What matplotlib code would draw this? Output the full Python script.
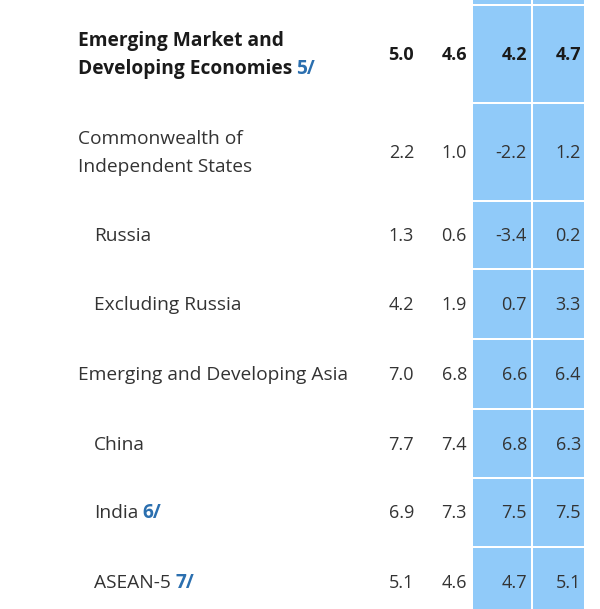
import matplotlib.pyplot as plt
from matplotlib.patches import Rectangle

plt.rcParams['font.family'] = ['Open Sans', 'DejaVu Sans']

# table content
labels = [
    ["Emerging Market and", "Developing Economies"],
    ["Commonwealth of", "Independent States"],
    ["Russia"],
    ["Excluding Russia"],
    ["Emerging and Developing Asia"],
    ["China"],
    ["India"],
    ["ASEAN-5"],
]
notes = ["5/", "", "", "", "", "", "6/", "7/"]
indent = [0, 0, 1, 1, 0, 1, 1, 1]
col_a = [5.0, 2.2, 1.3, 4.2, 7.0, 7.7, 6.9, 5.1]
col_b = [4.6, 1.0, 0.6, 1.9, 6.8, 7.4, 7.3, 4.6]
col_c = [4.2, -2.2, -3.4, 0.7, 6.6, 6.8, 7.5, 4.7]
col_d = [4.7, 1.2, 0.2, 3.3, 6.4, 6.3, 7.5, 5.1]

# layout (pixels)
row_edges = [-40, 5, 103, 201, 269, 339, 409, 478, 547, 617]
col_right = [414, 467, 527, 581]
shade_cols = [(473, 531), (533, 584)]
blue = "#90CAF9"
note_col = "#2B6FAF"
fs = 13.8
fs_num = 13

fig = plt.figure(figsize=(6, 6.09), dpi=100)
ax = fig.add_axes([0, 0, 1, 1])
ax.set_xlim(0, 600)
ax.set_ylim(609, 0)
ax.axis("off")

for x0, x1 in shade_cols:
    for i in range(len(row_edges) - 1):
        y0 = row_edges[i] + 1
        y1 = row_edges[i + 1] - 1
        ax.add_patch(Rectangle((x0, y0), x1 - x0, y1 - y0, color=blue, lw=0))

body_rows = row_edges[1:]
for i, lines in enumerate(labels):
    top, bot = body_rows[i], body_rows[i + 1]
    yc = (top + bot) / 2 + 1
    bold = i == 0
    weight = "bold" if bold else "normal"
    color = "#1a1a1a" if bold else "#333333"
    x = 78 + 16 * indent[i]
    n = len(lines)
    last = None
    for k, line in enumerate(lines):
        y = yc + (k - (n - 1) / 2) * 28
        last = ax.text(x, y, line, fontsize=fs, weight=weight, color=color,
                       ha="left", va="center")
    if notes[i]:
        ax.annotate(notes[i], xy=(1, 0.5), xycoords=last, xytext=(3, 0),
                    textcoords="offset points", ha="left", va="center",
                    fontsize=fs, weight="bold", color=note_col)
    for xr, vals in zip(col_right, [col_a, col_b, col_c, col_d]):
        ax.text(xr, yc, f"{vals[i]:.1f}", fontsize=fs_num, weight=weight,
                color=color, ha="right", va="center")

fig.savefig("out.png", dpi=100)
